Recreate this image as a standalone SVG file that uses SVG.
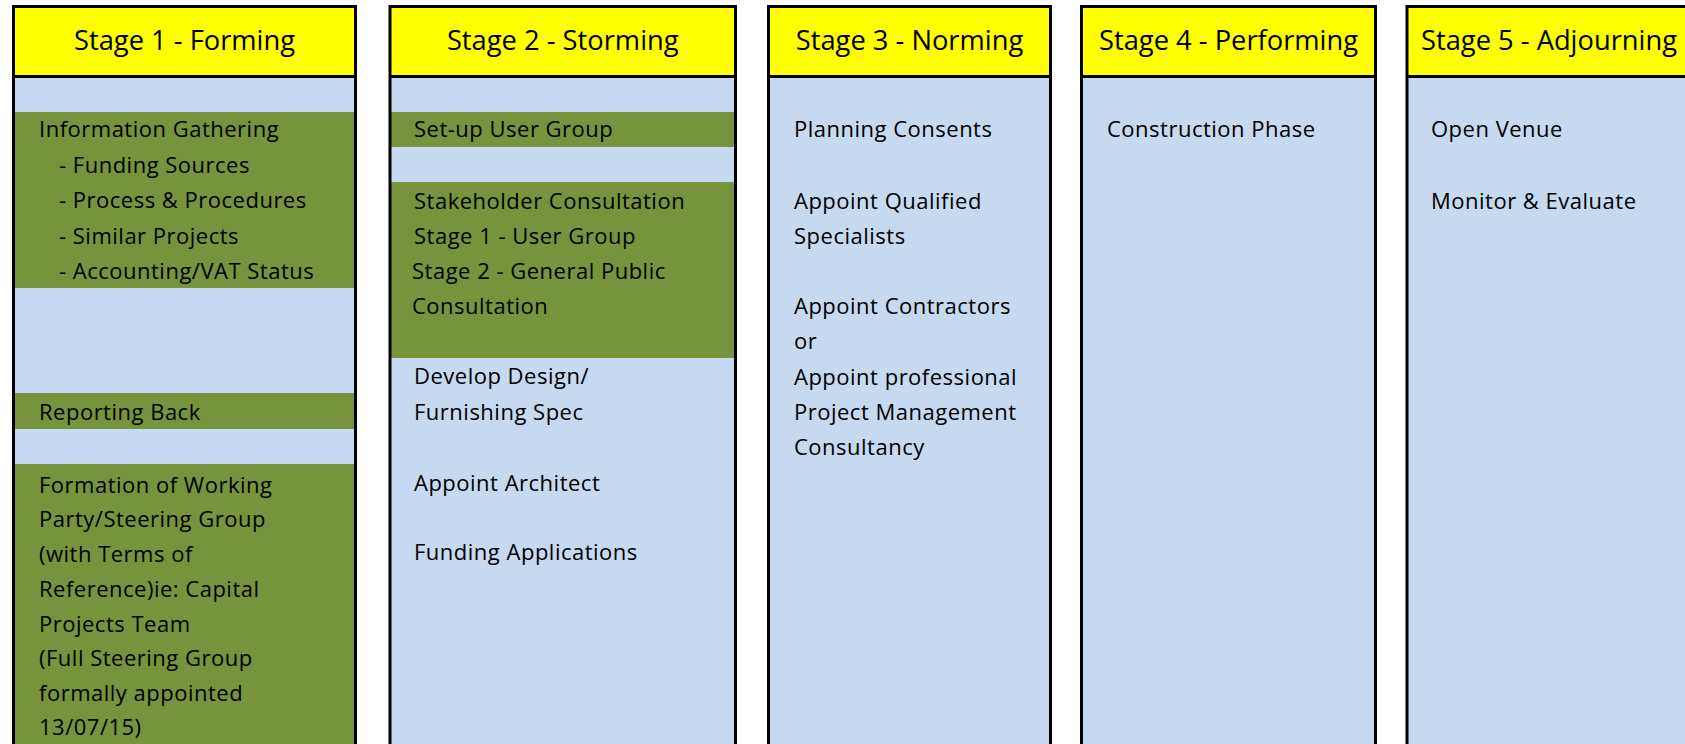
<svg xmlns="http://www.w3.org/2000/svg" width="1685" height="744" viewBox="0 0 1685 744">
<style>
.hdr{fill:#FFFF00}
.body{fill:#C5D9F1}
.band{fill:#77933C}
.frame{fill:none;stroke:#000;stroke-width:3}
.div{stroke:#000;stroke-width:3}
.h{font-family:"Open Sans","Liberation Sans",sans-serif;font-size:27.3px;text-anchor:middle;fill:#000}
.t{font-family:"Open Sans","Liberation Sans",sans-serif;font-size:22px;letter-spacing:0.5px;fill:#000}
</style>
<rect width="1685" height="744" fill="#FFFFFF"/>
<g id="stage1">
<rect class="body" x="13.5" y="6.5" width="342" height="760"/>
<rect class="hdr" x="13.5" y="6.5" width="342" height="70"/>
<rect class="band" x="13.5" y="112" width="342" height="176"/>
<rect class="band" x="13.5" y="393" width="342" height="36"/>
<rect class="band" x="13.5" y="464" width="342" height="302"/>
<rect class="frame" x="13.5" y="6.5" width="342" height="760"/>
<line class="div" x1="13.5" y1="76.5" x2="355.5" y2="76.5"/>
<text class="h" x="184.5" y="50">Stage 1 - Forming</text>
<text class="t" x="39" y="137">Information Gathering</text>
<text class="t" x="59" y="172.5">- Funding Sources</text>
<text class="t" x="59" y="208">- Process &amp; Procedures</text>
<text class="t" x="59" y="243.5">- Similar Projects</text>
<text class="t" x="59" y="278.5">- Accounting/VAT Status</text>
<text class="t" x="39" y="420">Reporting Back</text>
<text class="t" x="39" y="492.5">Formation of Working</text>
<text class="t" x="39" y="527">Party/Steering Group</text>
<text class="t" x="39" y="561.5">(with Terms of</text>
<text class="t" x="39" y="596.5">Reference)ie: Capital</text>
<text class="t" x="39" y="631.5">Projects Team</text>
<text class="t" x="39" y="666">(Full Steering Group</text>
<text class="t" x="39" y="700.5">formally appointed</text>
<text class="t" x="39" y="735">13/07/15)</text>
</g>
<g id="stage2">
<rect class="body" x="390" y="6.5" width="345.5" height="760"/>
<rect class="hdr" x="390" y="6.5" width="345.5" height="70"/>
<rect class="band" x="390" y="112" width="345.5" height="35"/>
<rect class="band" x="390" y="182" width="345.5" height="176"/>
<rect class="frame" x="390" y="6.5" width="345.5" height="760"/>
<line class="div" x1="390" y1="76.5" x2="735.5" y2="76.5"/>
<text class="h" x="562.75" y="50">Stage 2 - Storming</text>
<text class="t" x="414" y="137">Set-up User Group</text>
<text class="t" x="414" y="208.5">Stakeholder Consultation</text>
<text class="t" x="414" y="243.5">Stage 1 - User Group</text>
<text class="t" x="412" y="278.5">Stage 2 - General Public</text>
<text class="t" x="412" y="314">Consultation</text>
<text class="t" x="414" y="384">Develop Design/</text>
<text class="t" x="414" y="420">Furnishing Spec</text>
<text class="t" x="414" y="490.5">Appoint Architect</text>
<text class="t" x="414" y="560">Funding Applications</text>
</g>
<g id="stage3">
<rect class="body" x="768.5" y="6.5" width="282" height="760"/>
<rect class="hdr" x="768.5" y="6.5" width="282" height="70"/>
<rect class="frame" x="768.5" y="6.5" width="282" height="760"/>
<line class="div" x1="768.5" y1="76.5" x2="1050.5" y2="76.5"/>
<text class="h" x="909.5" y="50">Stage 3 - Norming</text>
<text class="t" x="794" y="137">Planning Consents</text>
<text class="t" x="794" y="208.5">Appoint Qualified</text>
<text class="t" x="794" y="243.5">Specialists</text>
<text class="t" x="794" y="313.5">Appoint Contractors</text>
<text class="t" x="794" y="349">or</text>
<text class="t" x="794" y="384.5">Appoint professional</text>
<text class="t" x="794" y="420">Project Management</text>
<text class="t" x="794" y="455">Consultancy</text>
</g>
<g id="stage4">
<rect class="body" x="1081.5" y="6.5" width="294" height="760"/>
<rect class="hdr" x="1081.5" y="6.5" width="294" height="70"/>
<rect class="frame" x="1081.5" y="6.5" width="294" height="760"/>
<line class="div" x1="1081.5" y1="76.5" x2="1375.5" y2="76.5"/>
<text class="h" x="1228.5" y="50">Stage 4 - Performing</text>
<text class="t" x="1107" y="137">Construction Phase</text>
</g>
<g id="stage5">
<rect class="body" x="1407" y="6.5" width="300" height="760"/>
<rect class="hdr" x="1407" y="6.5" width="300" height="70"/>
<rect class="frame" x="1407" y="6.5" width="300" height="760"/>
<line class="div" x1="1407" y1="76.5" x2="1707" y2="76.5"/>
<text class="h" x="1549" y="50">Stage 5 - Adjourning</text>
<text class="t" x="1431" y="137">Open Venue</text>
<text class="t" x="1431" y="208.5">Monitor &amp; Evaluate</text>
</g>
<g id="connectors"/>
</svg>
